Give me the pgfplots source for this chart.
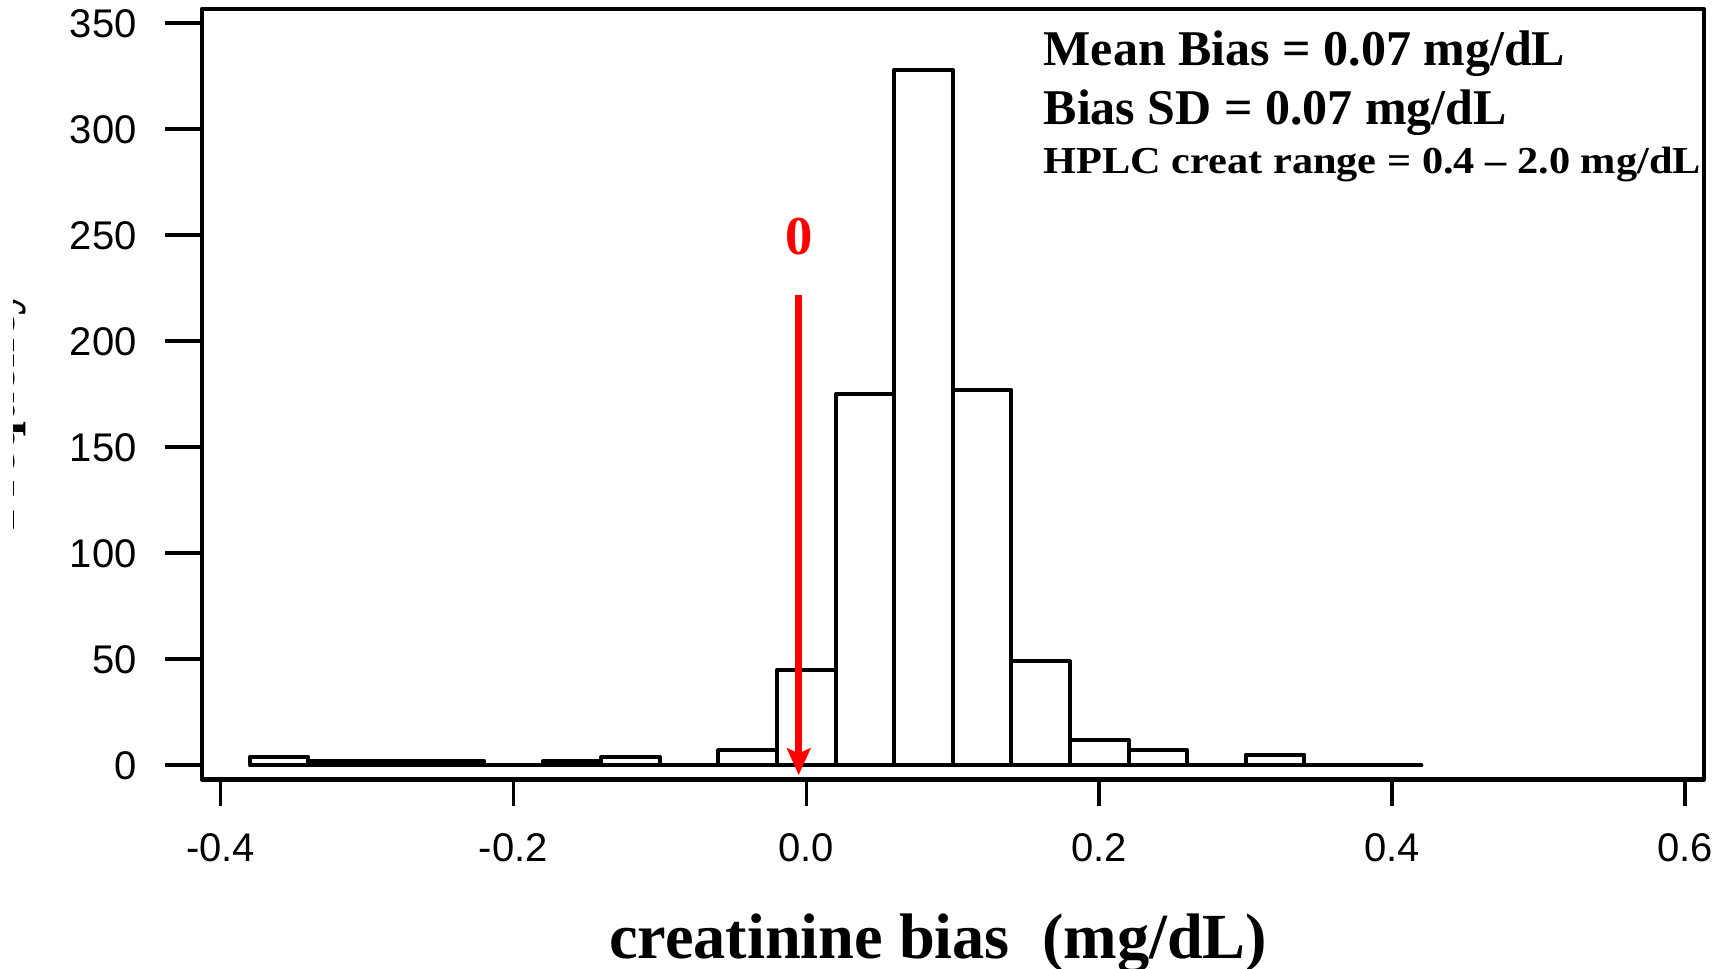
\documentclass[border=0pt]{standalone}
\usepackage{fontspec}
\setmainfont{Liberation Serif}
\newfontfamily\arial{Liberation Sans}
\usepackage{graphicx}
\usepackage{pgfplots}
\pgfplotsset{compat=1.18}
\usetikzlibrary{arrows.meta}
\begin{document}
\begin{tikzpicture}
\begin{axis}[
  at={(0,0)}, anchor=south west,
  scale only axis, width=450.6pt, height=231.2pt,
  xmin=-0.4128, xmax=0.6128, ymin=-6.74, ymax=356.8,
  axis line style={line width=1.3pt, line join=round},
  tick pos=left, tick align=outside,
  major tick length=11pt,
  x tick style={/pgfplots/major tick length=8pt},
  major tick style={line width=1.1pt, black},
  xtick={-0.4,-0.2,0,0.2,0.4,0.6},
  xticklabels={-0.4,-0.2,0.0,0.2,0.4,0.6},
  ytick={0,50,...,350},
  tick label style={font=\arial\fontsize{12}{14}\selectfont},
  /pgf/number format/assume math mode=true,
  yticklabel style={xshift=-5pt},
  xticklabel style={yshift=-1.8pt},
  clip=false,
]
\addplot[ybar interval, fill=white, draw=black, line width=1.2pt, line join=round] coordinates {
(-0.38,4) (-0.34,2) (-0.30,2) (-0.26,2) (-0.22,0) (-0.18,2) (-0.14,4) (-0.10,0)
(-0.06,7) (-0.02,45) (0.02,175) (0.06,328) (0.10,177) (0.14,49) (0.18,12)
(0.22,7) (0.26,0) (0.30,5) (0.34,0) (0.38,0) (0.42,0)
};
\draw[red, line width=2.2pt, -{Stealth[length=8pt,width=7pt,inset=1.5pt]}] (axis cs:-0.0052,221.8) -- (axis cs:-0.0052,-4.6);
\node[red, font=\bfseries\fontsize{16.4}{18}\selectfont] at (axis cs:-0.0052,249.4) {0};
\node[anchor=base west, inner sep=0pt, font=\bfseries\fontsize{15}{18}\selectfont] at (axis cs:0.1616,329.9) {Mean Bias = 0.07 mg/dL};
\node[anchor=base west, inner sep=0pt, font=\bfseries\fontsize{15}{18}\selectfont] at (axis cs:0.1616,302.3) {Bias SD = 0.07 mg/dL};
\node[anchor=base west, inner sep=0pt] at (axis cs:0.1616,279.0) {\scalebox{1}[0.9]{\bfseries\fontsize{12.7}{15}\selectfont HPLC creat range = 0.4 – 2.0 mg/dL}};
\end{axis}
\node[anchor=base, font=\bfseries\fontsize{19.3}{22}\selectfont] at (220.9pt,-53.8pt) {creatinine bias\ \ (mg/dL)};
\begin{scope}
\clip (-56.34pt,0pt) rectangle (-40pt,233.88pt);
\node[rotate=90, anchor=base, font=\bfseries\fontsize{16}{19}\selectfont] at (-56.04pt,111pt) {Frequency};
\end{scope}
\pgfresetboundingbox
\useasboundingbox (-60.54pt,-56.82pt) rectangle (458.16pt,233.88pt);
\end{tikzpicture}
\end{document}
